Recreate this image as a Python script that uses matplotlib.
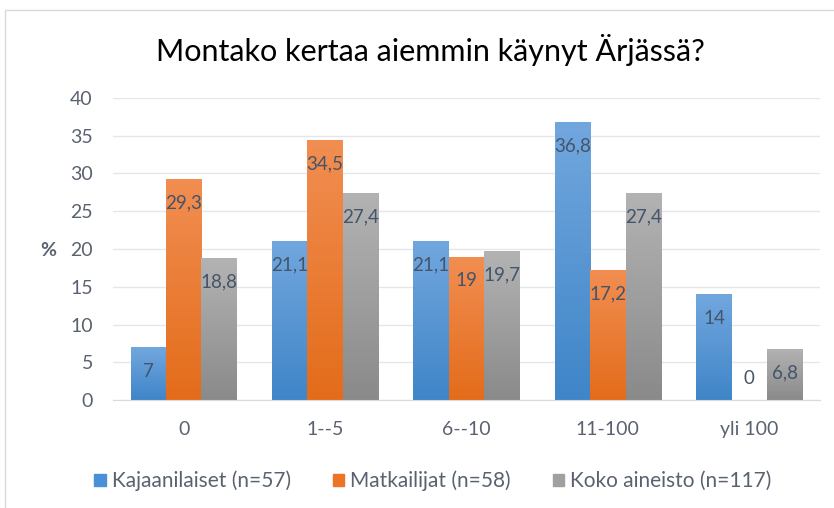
import numpy as np
import matplotlib
matplotlib.use("Agg")
import matplotlib.pyplot as plt
from matplotlib.colors import LinearSegmentedColormap
from matplotlib.patches import Rectangle

plt.rcParams['font.family'] = ['Lato', 'DejaVu Sans']

# Data
categories = ['0', '1--5', '6--10', '11-100', 'yli 100']
series_names = ['Kajaanilaiset (n=57)', 'Matkailijat (n=58)', 'Koko aineisto (n=117)']
kajaanilaiset = [7, 21.1, 21.1, 36.8, 14]
matkailijat = [29.3, 34.5, 19, 17.2, 0]
koko_aineisto = [18.8, 27.4, 19.7, 27.4, 6.8]
yticks = [0, 5, 10, 15, 20, 25, 30, 35, 40]

# gradient colours (top, bottom) and legend colour
grads = [('#72A7DE', '#3F85C8'), ('#F28E52', '#E36C1A'), ('#B3B3B3', '#8A8A8A')]
legend_cols = ['#4A90D6', '#ED7424', '#A0A0A0']
label_col = '#44546A'
tick_col = '#5A6270'

fig = plt.figure(figsize=(8.34, 5.08), dpi=100)
# chart frame
fig.patches.append(Rectangle((5 / 834, -0.1), 1.2, 1 - 10 / 508 + 0.1, transform=fig.transFigure,
                             fill=False, edgecolor='#D9D9D9', linewidth=1))

ax = fig.add_axes([113 / 834, 108 / 508, 707 / 834, 302 / 508])

x = np.arange(len(categories))
w = 0.25
all_series = [kajaanilaiset, matkailijat, koko_aineisto]
grad_img = np.linspace(1, 0, 256).reshape(-1, 1)

for i, vals in enumerate(all_series):
    cmap = LinearSegmentedColormap.from_list('g%d' % i, [grads[i][1], grads[i][0]])
    pos = x + (i - 1) * w
    bars = ax.bar(pos, vals, width=w, color='none', edgecolor='none', zorder=2,
                  label=series_names[i])
    for b, v in zip(bars, vals):
        if v > 0:
            im = ax.imshow(grad_img, extent=[b.get_x(), b.get_x() + w, 0, v], aspect='auto',
                           cmap=cmap, vmin=0, vmax=1, zorder=2, origin='upper')
            im.set_clip_path(b)
        off = -24 if v > 0 else 22
        ax.annotate(('%g' % v).replace('.', ','), (b.get_x() + w / 2, v),
                    xytext=(0, off * 0.72), textcoords='offset points',
                    ha='center', va='center', fontsize=13.5, color=label_col, zorder=3)

ax.set_xlim(-0.5, 4.5)
ax.set_ylim(0, 40)
ax.set_yticks(yticks)
ax.set_xticks(x)
ax.set_xticklabels(categories)
ax.grid(axis='y', color='#E3E6EA', linewidth=1, zorder=0)
ax.set_axisbelow(True)
for s in ['top', 'right', 'left']:
    ax.spines[s].set_visible(False)
ax.spines['bottom'].set_color('#D9D9D9')
ax.tick_params(axis='both', length=0, labelsize=14, colors=tick_col)
ax.tick_params(axis='y', pad=14.5)
ax.tick_params(axis='x', pad=15)

fig.text(48 / 834, 1 - 250 / 508, '%', fontsize=14, fontweight='bold', color=tick_col,
         ha='center', va='center')
fig.text(430 / 834, 1 - 50 / 508, 'Montako kertaa aiemmin käynyt Ärjässä?', fontsize=22,
         color='black', ha='center', va='center')

handles = [Rectangle((0, 0), 1, 1, color=c) for c in legend_cols]
fig.legend(handles, series_names, loc='center', bbox_to_anchor=(433 / 834, 1 - 481 / 508),
           ncol=3, frameon=False, fontsize=15, handlelength=0.55, handleheight=0.55,
           handletextpad=0.3, columnspacing=2.0, labelcolor=tick_col)

fig.savefig('out.png', dpi=100)
